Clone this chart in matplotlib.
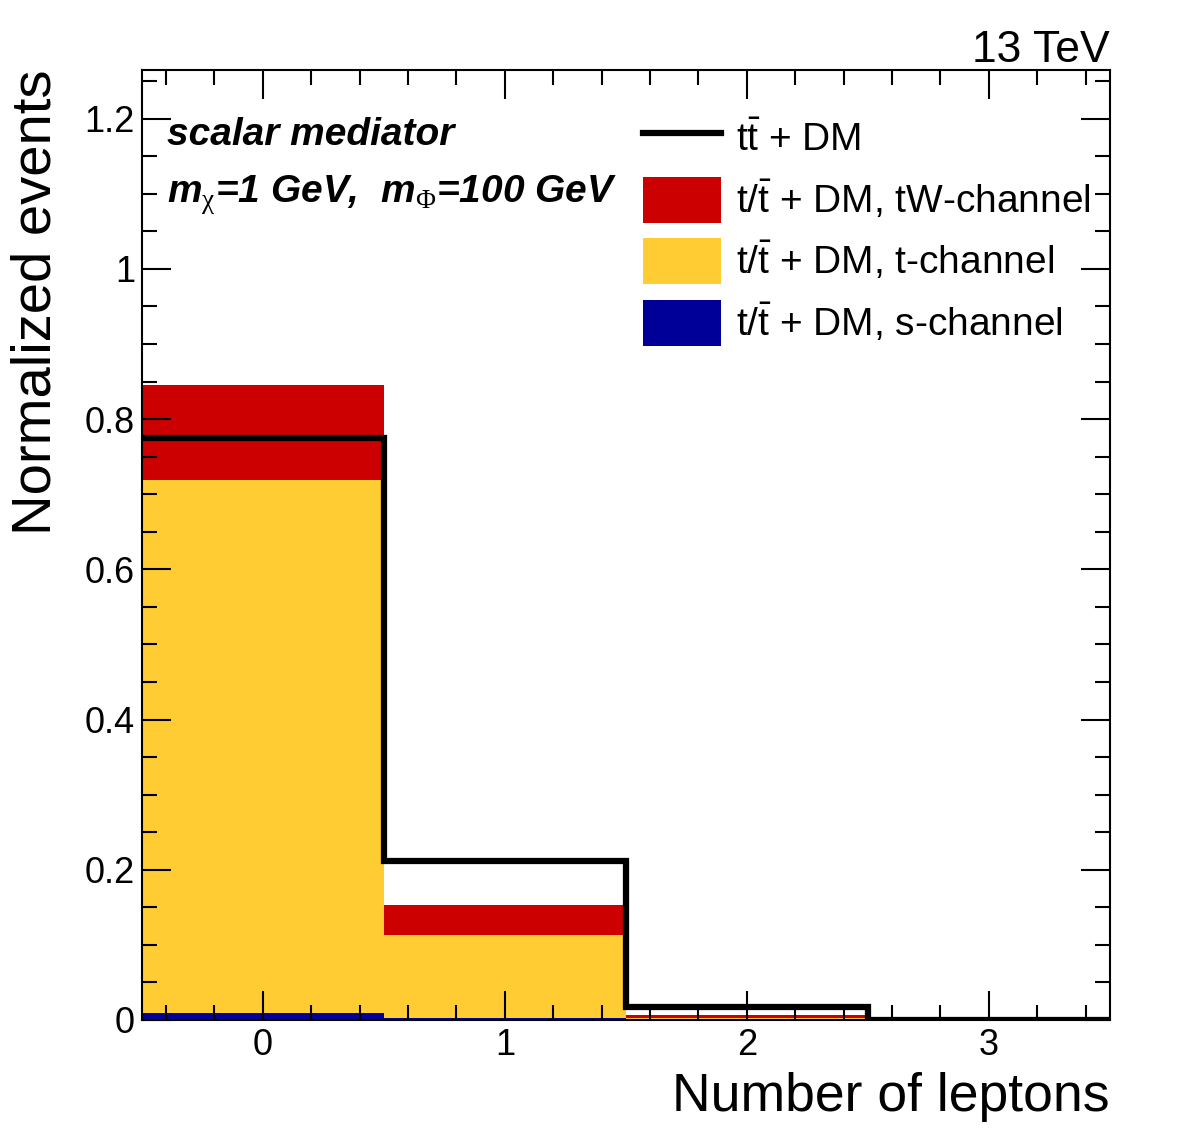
import numpy as np
import matplotlib
matplotlib.use("Agg")
import matplotlib.pyplot as plt
from matplotlib.ticker import MultipleLocator
from matplotlib.patches import Patch
from matplotlib.lines import Line2D

plt.rcParams['font.family'] = ['Liberation Sans', 'DejaVu Sans']
plt.rcParams['mathtext.fontset'] = 'custom'
plt.rcParams['mathtext.rm'] = 'Liberation Sans'
plt.rcParams['mathtext.it'] = 'Liberation Sans:italic'
plt.rcParams['mathtext.bf'] = 'Liberation Sans:bold'
plt.rcParams['mathtext.bfit'] = 'Liberation Sans:italic:bold'
plt.rcParams['mathtext.sf'] = 'Liberation Serif'

# number of leptons bins
leptons = np.array([0, 1, 2, 3])
edges = np.array([-0.5, 0.5, 1.5, 2.5, 3.5])

# stacked single top + DM contributions (normalized)
s_channel = np.array([0.009, 0.002, 0.001, 0.0])
t_channel = np.array([0.710, 0.111, 0.002, 0.0])
tw_channel = np.array([0.127, 0.040, 0.004, 0.0])
# ttbar + DM overlay
ttbar = np.array([0.775, 0.212, 0.017, 0.0])

labels = [r"$\mathrm{t\bar{t}}$ + DM",
          r"$\mathrm{t/\bar{t}}$ + DM, tW-channel",
          r"$\mathrm{t/\bar{t}}$ + DM, t-channel",
          r"$\mathrm{t/\bar{t}}$ + DM, s-channel"]

c_red = '#cc0000'
c_yel = '#ffcc33'
c_blue = '#000099'

fig = plt.figure(figsize=(11.82, 11.46), dpi=100)
ax = fig.add_axes([0.120, 0.110, 0.819, 0.829])

ax.bar(leptons, s_channel, width=1.0, color=c_blue, linewidth=0)
ax.bar(leptons, t_channel, width=1.0, bottom=s_channel, color=c_yel, linewidth=0)
ax.bar(leptons, tw_channel, width=1.0, bottom=s_channel + t_channel, color=c_red, linewidth=0)
ax.stairs(ttbar, edges, color='black', linewidth=4.5, baseline=None, zorder=5)

ax.set_xlim(-0.5, 3.5)
ax.set_ylim(0, 1.265)

ax.xaxis.set_major_locator(MultipleLocator(1))
ax.xaxis.set_minor_locator(MultipleLocator(0.2))
ax.yaxis.set_major_locator(MultipleLocator(0.2))
ax.yaxis.set_minor_locator(MultipleLocator(0.05))
ax.yaxis.set_major_formatter(plt.FuncFormatter(lambda v, p: '0' if v == 0 else ('1' if abs(v - 1) < 1e-9 else f'{v:g}')))
ax.tick_params(which='both', direction='in', top=True, right=True, width=1.5)
ax.tick_params(which='major', length=21, labelsize=26, pad=6)
ax.tick_params(which='minor', length=10.5)
ax.tick_params(axis='y', which='major', pad=5)
for sp in ax.spines.values():
    sp.set_linewidth(1.5)

ax.set_xlabel('Number of leptons', fontsize=38.5, loc='right')
ax.set_ylabel('Normalized events', fontsize=40.5, loc='top')
ax.xaxis.set_label_coords(1.0, -0.055)
ax.yaxis.set_label_coords(-0.082, 1.0)

ax.text(1.0, 0.999, '13 TeV', transform=ax.transAxes, ha='right', va='bottom', fontsize=32)
ax.text(0.026, 0.921, 'scalar mediator', transform=ax.transAxes, fontsize=28,
        fontweight='bold', fontstyle='italic', va='baseline')
ax.text(0.026, 0.861,
        r"$\mathbfit{m}_{\mathsf{\chi}}$=1 GeV,  $\mathbfit{m}_{\mathsf{\Phi}}$=100 GeV",
        transform=ax.transAxes, fontsize=28, fontweight='bold', fontstyle='italic', va='baseline')

handles = [Line2D([], [], color='black', linewidth=4.5),
           Patch(facecolor=c_red, edgecolor='none'),
           Patch(facecolor=c_yel, edgecolor='none'),
           Patch(facecolor=c_blue, edgecolor='none')]
ax.legend(handles, labels, loc='upper left', bbox_to_anchor=(0.5176, 0.952), frameon=False,
          fontsize=28, borderpad=0, borderaxespad=0, handlelength=2.0, handleheight=1.45,
          handletextpad=0.4, labelspacing=0.39)

fig.savefig('out.png', dpi=100)
